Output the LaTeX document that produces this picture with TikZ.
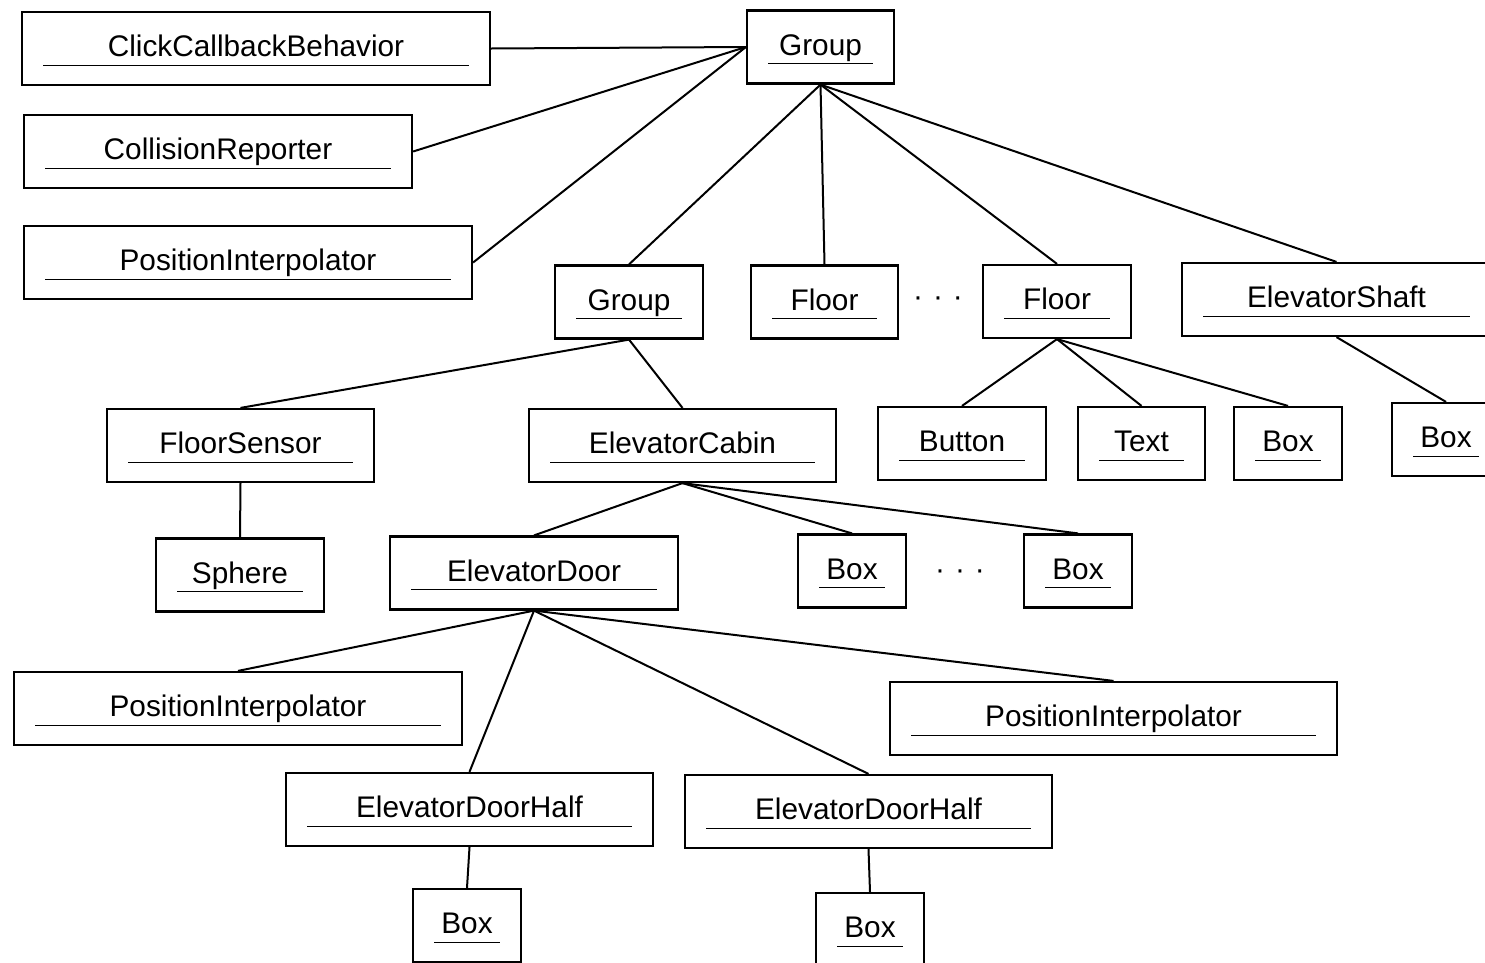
\documentclass[tikz,border=0pt]{standalone}
\usepackage{fontspec}
\setmainfont{Liberation Sans}
\begin{document}
\begin{tikzpicture}[x=1pt,y=-1pt,
  obj/.style={draw, line width=2.2pt, inner sep=0pt, minimum height=73pt,
    text height=21pt, text depth=5pt, font=\fontsize{29.8}{36}\selectfont,
    path picture={\draw[line width=1pt]
      ([xshift=21pt,yshift=20pt]path picture bounding box.south west) --
      ([xshift=-21pt,yshift=20pt]path picture bounding box.south east);}},
  dots/.style={inner sep=0pt, font=\fontsize{29.8}{36}\selectfont},
  link/.style={line width=2pt}]
\useasboundingbox (0,0) rectangle (1485,962);
\clip (0,0) rectangle (1485,962);
% nodes
\node[obj, minimum width=468pt] (ccb) at (256,48.5) {ClickCallbackBehavior};
\node[obj, minimum width=388pt] (cr) at (218,151.5) {CollisionReporter};
\node[obj, minimum width=448pt] (pia) at (248,262.5) {PositionInterpolator};
\node[obj, minimum width=147pt] (g1) at (820.5,47) {Group};
\node[obj, minimum width=148pt] (g2) at (629,302) {Group};
\node[obj, minimum width=147pt] (fl1) at (824.5,302) {Floor};
\node[dots] (d1) at (938,302) {·\,\,·\,\,·};
\node[obj, minimum width=148pt] (fl2) at (1057,301.5) {Floor};
\node[obj, minimum width=309pt] (sh) at (1336.5,299.5) {ElevatorShaft};
\node[obj, minimum width=267pt] (fs) at (240.5,445.5) {FloorSensor};
\node[obj, minimum width=307pt] (cab) at (682.5,445.5) {ElevatorCabin};
\node[obj, minimum width=168pt] (btn) at (962,443.5) {Button};
\node[obj, minimum width=127pt] (txt) at (1141.5,443.5) {Text};
\node[obj, minimum width=108pt] (bx1) at (1288,443.5) {Box};
\node[obj, minimum width=108pt] (bx2) at (1446,439.5) {Box};
\node[obj, minimum width=168pt] (sph) at (240,575) {Sphere};
\node[obj, minimum width=288pt] (door) at (534,573) {ElevatorDoor};
\node[obj, minimum width=108pt] (bx3) at (852,571) {Box};
\node[dots] (d2) at (960,575) {·\,\,·\,\,·};
\node[obj, minimum width=108pt] (bx4) at (1078,571) {Box};
\node[obj, minimum width=448pt] (pib) at (238,708.5) {PositionInterpolator};
\node[obj, minimum width=447pt] (pic) at (1113.5,718.5) {PositionInterpolator};
\node[obj, minimum width=367pt] (edh1) at (469.5,809.5) {ElevatorDoorHalf};
\node[obj, minimum width=367pt] (edh2) at (868.5,811.5) {ElevatorDoorHalf};
\node[obj, minimum width=108pt] (bx5) at (467,925.5) {Box};
\node[obj, minimum width=108pt] (bx6) at (870,929.5) {Box};
% connectors
\draw[link] (g1.west) -- (ccb.east);
\draw[link] (g1.west) -- (cr.east);
\draw[link] (g1.west) -- (pia.east);
\draw[link] (g1.south) -- (g2.north);
\draw[link] (g1.south) -- (fl1.north);
\draw[link] (g1.south) -- (fl2.north);
\draw[link] (g1.south) -- (sh.north);
\draw[link] (g2.south) -- (fs.north);
\draw[link] (g2.south) -- (cab.north);
\draw[link] (fl2.south) -- (btn.north);
\draw[link] (fl2.south) -- (txt.north);
\draw[link] (fl2.south) -- (bx1.north);
\draw[link] (sh.south) -- (bx2.north);
\draw[link] (fs.south) -- (sph.north);
\draw[link] (cab.south) -- (door.north);
\draw[link] (cab.south) -- (bx3.north);
\draw[link] (cab.south) -- (bx4.north);
\draw[link] (door.south) -- (pib.north);
\draw[link] (door.south) -- (pic.north);
\draw[link] (door.south) -- (edh1.north);
\draw[link] (door.south) -- (edh2.north);
\draw[link] (edh1.south) -- (bx5.north);
\draw[link] (edh2.south) -- (bx6.north);
\end{tikzpicture}
\end{document}
